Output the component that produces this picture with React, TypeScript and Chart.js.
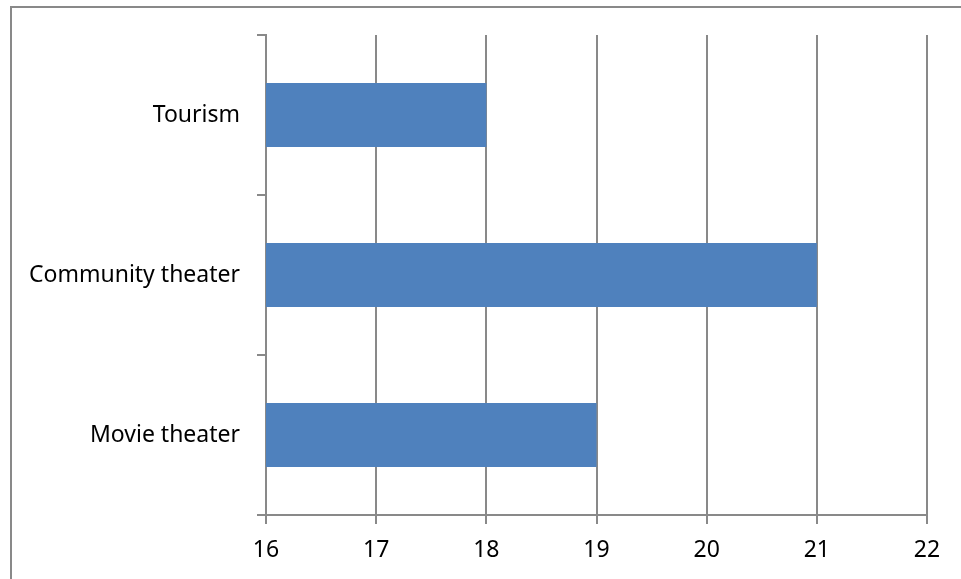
import React, { useEffect, useRef } from "react";
import { Chart, registerables } from "chart.js";

Chart.register(...registerables);

const categories = ["Tourism", "Community theater", "Movie theater"];
const values = [18, 21, 19];
const xMin = 16;
const xMax = 22;

const LINE = "#898989";
const FONT = "'Noto Sans', 'Open Sans', sans-serif";

// Frame around the whole chart, running off the right and bottom edges.
const framePlugin = {
  id: "frame",
  beforeDraw(chart: any) {
    const ctx = chart.ctx;
    ctx.save();
    ctx.strokeStyle = LINE;
    ctx.lineWidth = 2;
    ctx.strokeRect(11, 7, 2000, 2000);
    ctx.restore();
  },
};

export default function App() {
  const ref = useRef<HTMLCanvasElement>(null);

  useEffect(() => {
    if (!ref.current) return;
    const chart = new Chart(ref.current, {
      type: "bar",
      data: {
        labels: categories,
        datasets: [
          {
            data: values,
            backgroundColor: "#4F81BD",
            borderWidth: 0,
            categoryPercentage: 1,
            barPercentage: 0.4,
          },
        ],
      },
      options: {
        indexAxis: "y",
        animation: false,
        responsive: false,
        maintainAspectRatio: false,
        layout: { padding: { top: 35, right: 34, left: 0, bottom: 0 } },
        plugins: {
          legend: { display: false },
          tooltip: { enabled: false },
        },
        scales: {
          x: {
            min: xMin,
            max: xMax,
            ticks: {
              stepSize: 1,
              color: "#000",
              font: { family: FONT, size: 23 },
              padding: 13,
            },
            grid: {
              color: LINE,
              lineWidth: 2,
              drawTicks: true,
              tickLength: 9,
            },
            border: { color: LINE, width: 2 },
            afterFit(scale: any) {
              scale.height = 64;
            },
          },
          y: {
            ticks: {
              color: "#000",
              font: { family: FONT, size: 23 },
              padding: 17,
            },
            grid: {
              display: true,
              drawOnChartArea: false,
              color: LINE,
              lineWidth: 2,
              tickLength: 9,
              offset: true,
            },
            border: { color: LINE, width: 2 },
            afterFit(scale: any) {
              scale.width = 266;
            },
          },
        },
      },
      plugins: [framePlugin],
    });
    return () => chart.destroy();
  }, []);

  return (
    <div style={{ position: "absolute", left: 0, top: 0, width: 961, height: 579, background: "#fff" }}>
      <canvas ref={ref} width={961} height={579} style={{ display: "block" }} />
    </div>
  );
}
